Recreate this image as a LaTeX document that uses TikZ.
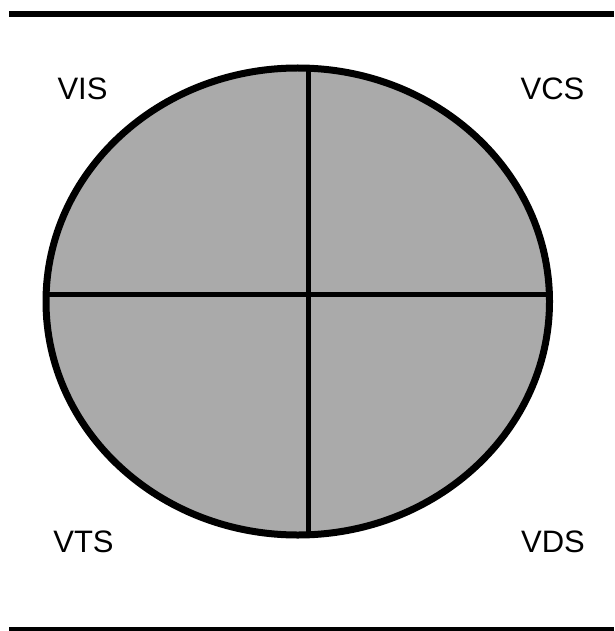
\documentclass[tikz,border=0pt]{standalone}
\usepackage{fontspec}
\setmainfont{Liberation Sans}
\definecolor{quadgray}{RGB}{170,170,170}
\tikzset{
  rule/.style={line width=6pt, draw=black},
  rim/.style={line width=7pt, draw=black, fill=quadgray},
  axis/.style={line width=5pt, draw=black},
  lbl/.style={inner sep=0pt, font=\fontsize{31}{31}\selectfont}
}
\begin{document}
\begin{tikzpicture}[x=1pt,y=-1pt]
\useasboundingbox (0,0) rectangle (614,631);
% rules
\coordinate (tl) at (9,14);
\coordinate (tr) at (614,14);
\coordinate (bl) at (9,629.5);
\coordinate (br) at (614,629.5);
\draw[rule] (tl) -- (tr);
\draw[rule, line width=5pt] (bl) -- (br);
% ellipse
\coordinate (c) at (297.75,301.5);
\draw[rim] (c) ellipse [x radius=251.75, y radius=233.5];
% cross
\coordinate (hl) at (46.1,294);
\coordinate (hr) at (549.4,294);
\coordinate (vt) at (308.5,68.2);
\coordinate (vb) at (308.5,534.8);
\draw[axis] (hl) -- (hr);
\draw[axis] (vt) -- (vb);
% labels
\node[lbl] (vis) at (82.5,88.5) {VIS};
\node[lbl] (vcs) at (552.5,89) {VCS};
\node[lbl] (vts) at (83.5,541.5) {VTS};
\node[lbl] (vds) at (553,541.5) {VDS};
\end{tikzpicture}
\end{document}
